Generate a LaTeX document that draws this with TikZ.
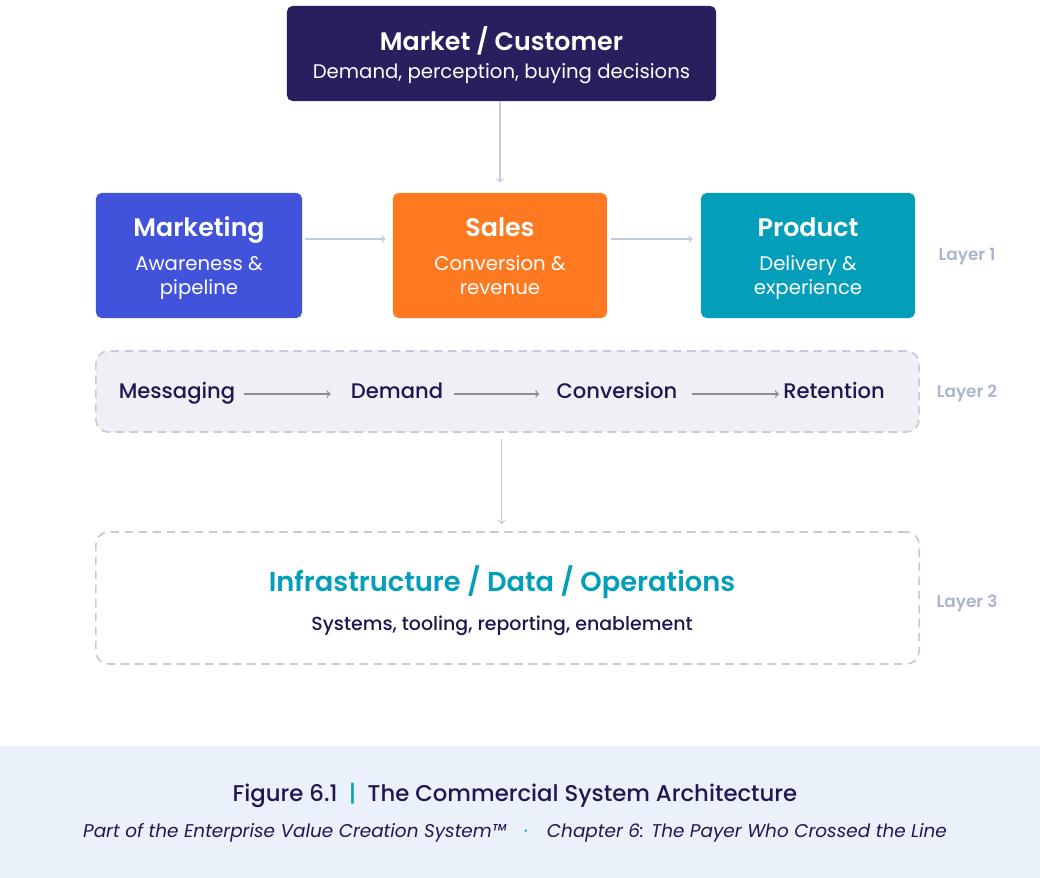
\documentclass[tikz,border=0pt]{standalone}
\usepackage{fontspec}
\setmainfont{Poppins}[BoldFont={Poppins SemiBold}]
\newfontfamily\medfont{Poppins Medium}
\usetikzlibrary{positioning}

\definecolor{navy}{HTML}{291F5E}
\definecolor{royal}{HTML}{4152DB}
\definecolor{tangerine}{HTML}{FF7920}
\definecolor{teal}{HTML}{039EB9}
\definecolor{ink}{HTML}{1E1852}
\definecolor{haze}{HTML}{C3CBDD}
\definecolor{tagblue}{HTML}{A9B5CF}
\definecolor{band}{HTML}{EBF1FA}
\definecolor{panel}{HTML}{EFF0F5}
\definecolor{chaingray}{HTML}{8E8E8E}

\newcommand{\headfont}{\bfseries\fontsize{18}{21}\selectfont}
\newcommand{\subfont}{\fontsize{14}{17}\selectfont}
\newcommand{\padtop}[1]{\rule{0pt}{#1}}
\newcommand{\padbot}{\rule[-4pt]{0pt}{4pt}}

\tikzset{
  unit/.style={rounded corners=4pt, text=white, align=center, inner sep=0pt,
    minimum height=3.125cm, font=\subfont},
  layer/.style={draw=haze, dash pattern=on 6pt off 4pt, line width=1.2pt,
    rounded corners=9pt, minimum width=20.575cm, inner sep=0pt},
  flow/.style={draw=haze, line width=1pt, ->},
  link/.style={draw=chaingray, line width=1pt, ->},
  stage/.style={text=ink, inner sep=0pt, text height=1.6ex, text depth=0.5ex,
    font=\medfont\fontsize{15}{18}\selectfont},
  tag/.style={text=tagblue, font=\bfseries\fontsize{12}{14}\selectfont}
}

\begin{document}
\begin{tikzpicture}[x=0.025cm, y=-0.025cm]
  \useasboundingbox (0,0) rectangle (1040,878);
  \fill[band] (0,746) rectangle (1040,878);

  \node[unit, fill=navy, minimum width=10.725cm, minimum height=2.375cm] (Market) at (501.5,53.5)
    {{\headfont\padtop{19.5pt}Market / Customer}\\[3pt]Demand, perception, buying decisions};

  \node[unit, fill=royal, minimum width=5.15cm] (Marketing) at (199,255.5)
    {{\headfont\padtop{18.5pt}Marketing}\\[7pt]Awareness \&\\pipeline\padbot};
  \node[unit, fill=tangerine, minimum width=5.35cm] (Sales) at (500,255.5)
    {{\headfont\padtop{18.5pt}Sales}\\[7pt]Conversion \&\\revenue\padbot};
  \node[unit, fill=teal, minimum width=5.35cm] (Product) at (808,255.5)
    {{\headfont\padtop{18.5pt}Product}\\[7pt]Delivery \&\\experience\padbot};
  \node[tag] (L1) at (967,257) {Layer 1};

  \draw[flow, shorten >=0.25cm] (Market.south -| Sales.north) -- (Sales.north);
  \draw[flow, shorten <=0.075cm, shorten >=0.175cm]
    ([yshift=0.41cm]Marketing.east) -- ([yshift=0.41cm]Sales.west);
  \draw[flow, shorten <=0.1cm, shorten >=0.2cm]
    ([yshift=0.41cm]Sales.east) -- ([yshift=0.41cm]Product.west);

  \node[layer, fill=panel, minimum height=2.025cm] (Flow) at (507.5,391.5) {};
  \node[stage] (Messaging) at (177,394) {Messaging};
  \node[stage] (Demand) at (397,394) {Demand};
  \node[stage] (Conversion) at (617,394) {Conversion};
  \node[stage] (Retention) at (834,394) {Retention};
  \draw[link, shorten <=0.225cm, shorten >=0.5cm] (Messaging) -- (Demand);
  \draw[link, shorten <=0.275cm, shorten >=0.425cm] (Demand) -- (Conversion);
  \draw[link, shorten <=0.35cm, shorten >=0.1cm] (Conversion) -- (Retention);
  \node[tag] (L2) at (967,393) {Layer 2};

  \node[layer, minimum height=3.3cm] (Base) at (507.5,598) {};
  \draw[flow, shorten <=0.15cm, shorten >=0.175cm] (Flow.south -| Market.south) -- (Base.north -| Market.south);
  \node[text=teal, font=\bfseries\fontsize{19.4}{23}\selectfont] (Infra) at (502,582)
    {Infrastructure / Data / Operations};
  \node[text=ink, font=\medfont\fontsize{13.5}{16}\selectfont] (InfraSub) at (502,626)
    {Systems, tooling, reporting, enablement};
  \node[tag] (L3) at (967,603) {Layer 3};

  \node[text=ink, font=\medfont\fontsize{16.2}{19}\selectfont] (Caption) at (515,795)
    {Figure 6.1\enspace{\color{teal}|}\enspace The Commercial System Architecture};
  \node[text=ink, font=\itshape\fontsize{13.1}{15}\selectfont] (Credit) at (515,833)
    {Part of the Enterprise Value Creation System™\quad{\color{teal}·}\quad Chapter 6: The Payer Who Crossed the Line};
\end{tikzpicture}
\end{document}
